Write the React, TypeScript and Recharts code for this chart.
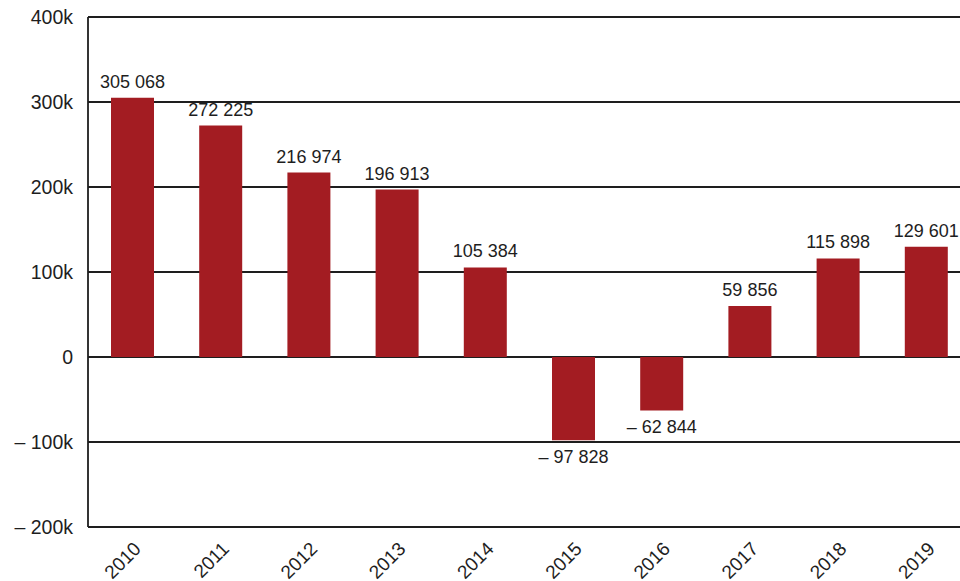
import React from 'react';
import { BarChart, Bar, XAxis, YAxis, CartesianGrid, LabelList } from 'recharts';

const years = ['2010', '2011', '2012', '2013', '2014', '2015', '2016', '2017', '2018', '2019'];
const values = [305068, 272225, 216974, 196913, 105384, -97828, -62844, 59856, 115898, 129601];
const yTicks = [-200000, -100000, 0, 100000, 200000, 300000, 400000];
const edgeTicks = [0, 1, 2, 3, 4, 5, 6, 7, 8, 9, 10];

const data = years.map((year, i) => ({ year, value: values[i] }));

const INK = '#1e1e1e';
const BAR = '#a31c22';
const FONT = '"Liberation Sans", Arial, Helvetica, sans-serif';
const NBSP = '\u00A0';

const fmtTick = (v: number) => {
    if (v === 0) return '0';
    const k = `${Math.abs(v) / 1000}k`;
    return v < 0 ? `–${NBSP}${k}` : k;
};

// non-breaking spaces so the label text does not wrap to bar width
const fmtValue = (v: number) => {
    const s = Math.abs(v).toString().replace(/\B(?=(\d{3})+(?!\d))/g, NBSP);
    return v < 0 ? `–${NBSP}${s}` : s;
};

interface TickProps { x?: number; y?: number; payload?: { value: string } }

const YearTick = ({ x = 0, y = 0, payload }: TickProps) => (
    <g transform={`translate(${x + 10},${y + 23})`}>
        <text transform="rotate(-45)" textAnchor="end" fill={INK} fontSize={19} fontFamily={FONT}>
            {payload?.value}
        </text>
    </g>
);

export default function App() {
    return (
        <div style={{ position: 'absolute', left: 0, top: 0, width: 960, height: 581, overflow: 'hidden', background: '#fff' }}>
            <BarChart
                width={990}
                height={581}
                data={data}
                margin={{ top: 17, right: 20, left: 0, bottom: 0 }}
                barSize={43}
            >
                <CartesianGrid vertical={false} stroke={INK} strokeWidth={1.8} />
                <XAxis
                    xAxisId="edge" type="number" domain={[0, 10]} ticks={edgeTicks}
                    allowDataOverflow tick={false} axisLine={false} tickSize={10} height={0}
                    tickLine={{ stroke: INK, strokeWidth: 1.8 }}
                />
                <XAxis
                    xAxisId="cat" dataKey="year" height={54} axisLine={false} tickLine={false}
                    tickSize={0} tickMargin={0} interval={0} tick={<YearTick />}
                />
                <YAxis
                    type="number" domain={[-200000, 400000]} ticks={yTicks} width={88}
                    axisLine={{ stroke: INK, strokeWidth: 1.8 }} tickLine={false} tickSize={0} tickMargin={15}
                    tickFormatter={fmtTick} interval={0}
                    tick={{ fill: INK, fontSize: 19.5, fontFamily: FONT }}
                />
                <Bar dataKey="value" xAxisId="cat" fill={BAR} isAnimationActive={false}>
                    <LabelList
                        dataKey="value" position="top" offset={10} formatter={(v: number) => fmtValue(v)}
                        style={{ fill: INK, fontSize: 18, fontFamily: FONT }}
                    />
                </Bar>
            </BarChart>
        </div>
    );
}
